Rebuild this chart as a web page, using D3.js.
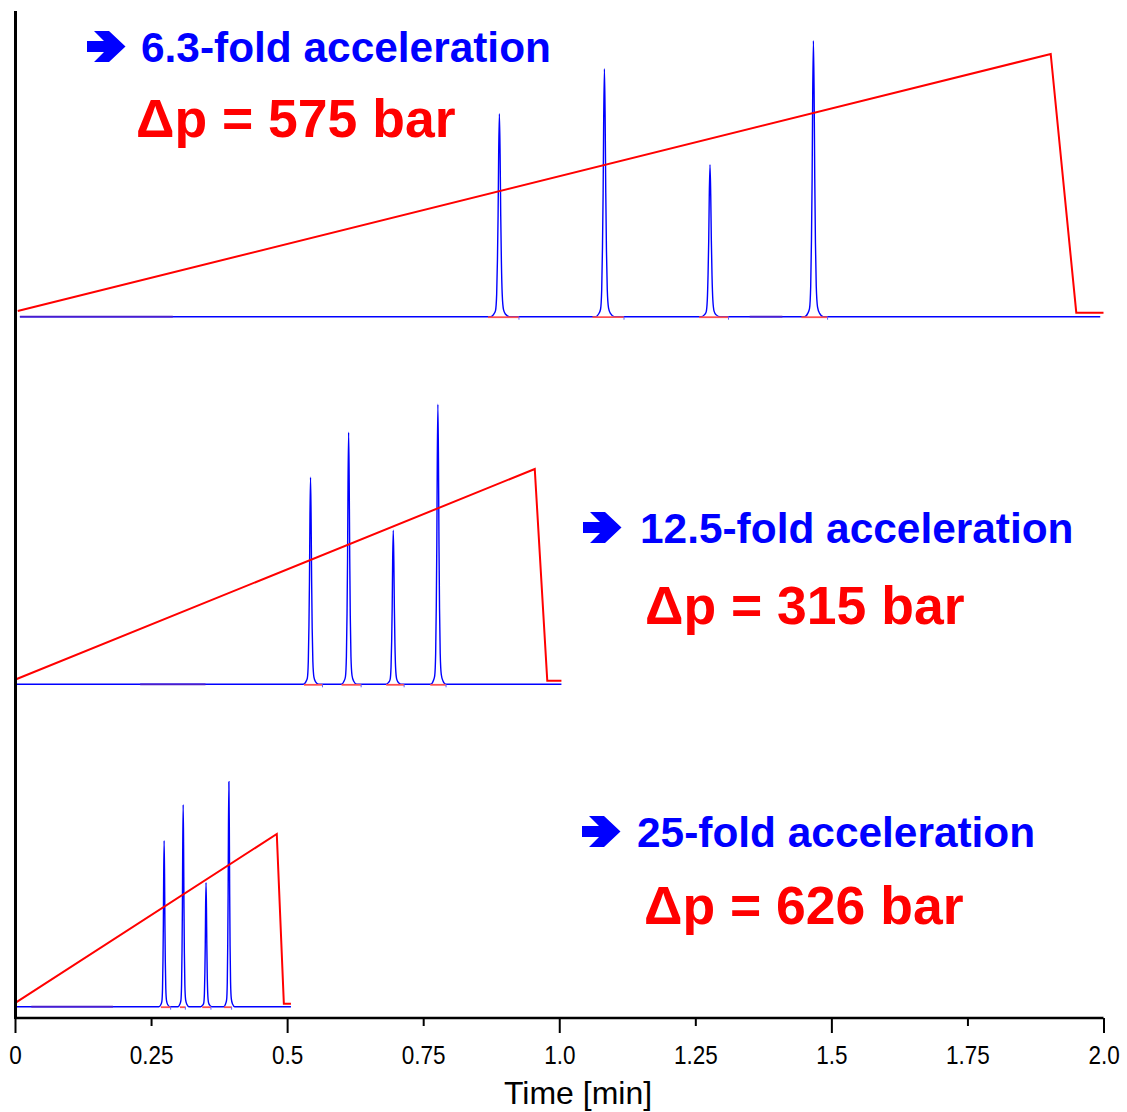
<!DOCTYPE html>
<html>
<head>
<meta charset="utf-8">
<script src="https://cdn.jsdelivr.net/npm/d3@7"></script>
<style>
  body { margin: 0; background: #fff; }
  svg text { font-family: "Liberation Sans", Arial, sans-serif; }
</style>
</head>
<body>
<div id="chart"></div>
<script>
// ---- data (time in min, signal in arbitrary units) ----
var panelNames = ["6.3-fold", "12.5-fold", "25-fold"];
var foldLabels = ["6.3-fold acceleration", "12.5-fold acceleration", "25-fold acceleration"];
var pressureLabels = ["\u0394p = 575 bar", "\u0394p = 315 bar", "\u0394p = 626 bar"];

// peak retention times and heights
var peakTimes = [
  [0.890, 1.083, 1.277, 1.467],
  [0.543, 0.613, 0.695, 0.777],
  [0.274, 0.309, 0.351, 0.393]
];
var peakHeights = [
  [203, 248, 152, 276],
  [207, 252, 154, 280],
  [166, 202, 124, 225]
];
// peak width at half height (min)
var peakWidths = [0.0095, 0.0078, 0.0056];
// shape of one peak: offset in half-height widths, relative height
var peakProfile = [
  [-3.4, 0], [-2.2, 0.012], [-1.5, 0.03], [-1.05, 0.11], [-0.75, 0.28], [-0.5, 0.5],
  [-0.28, 0.8], [0, 1], [0.28, 0.8], [0.52, 0.5], [0.78, 0.27],
  [1.1, 0.11], [1.6, 0.035], [2.4, 0.012], [3.8, 0]
];
// integration windows (red marks on the baseline)
var integrations = [
  [[0.869, 0.926], [1.061, 1.119], [1.257, 1.311], [1.445, 1.493]],
  [[0.531, 0.565], [0.600, 0.636], [0.682, 0.715], [0.763, 0.792]],
  [[0.268, 0.286], [0.303, 0.313], [0.344, 0.360], [0.384, 0.398]]
];
// darker (overlapping) stretches of the baseline
var darkBaseline = [
  [[0.009, 0.29], [1.35, 1.41]],
  [[0.23, 0.35]],
  [[0.03, 0.18]]
];
// blue trace start / end
var traceRange = [[0.009, 1.994], [0.003, 1.004], [0.003, 0.507]];
// red gradient / pressure trace
var redTrace = [
  [[0.005, 5.7], [1.903, 262.7], [1.950, 4], [2.0, 4]],
  [[0.002, 5], [0.955, 215.3], [0.978, 3.6], [1.004, 3.6]],
  [[0.002, 4.4], [0.481, 172.7], [0.494, 3], [0.507, 3]]
];
var xTicks = [0, 0.25, 0.5, 0.75, 1.0, 1.25, 1.5, 1.75, 2.0];
var xTickLabels = ["0", "0.25", "0.5", "0.75", "1.0", "1.25", "1.5", "1.75", "2.0"];

// ---- layout ----
var width = 1127, height = 1112;
var baselines = [316.7, 684.3, 1006.7];
var textPos = [
  {ax: 87, tx: 141, ty: 62, px: 136, py: 137},
  {ax: 583, tx: 640, ty: 543, px: 645, py: 624},
  {ax: 582, tx: 637, ty: 847, px: 644, py: 924}
];
// block arrow shape used before the "fold acceleration" labels
var arrowShape = "M0,-5.5 L17,-5.5 L7,-15.5 L22,-15.5 L38.5,0 L22,15.5 L7,15.5 L17,5.5 L0,5.5 Z";

var svg = d3.select("#chart").append("svg")
  .attr("width", width)
  .attr("height", height);

var x = d3.scaleLinear().domain([0, 2]).range([15, 1103.5]);

panelNames.forEach(function(name, i) {
  var y = d3.scaleLinear().domain([0, 300]).range([baselines[i], baselines[i] - 300]);
  var g = svg.append("g").attr("class", "panel");

  // blue chromatogram: baseline with peaks
  var pts = [[traceRange[i][0], 0]];
  peakTimes[i].forEach(function(t, k) {
    peakProfile.forEach(function(p) {
      pts.push([t + p[0] * peakWidths[i] / 2, p[1] * peakHeights[i][k]]);
    });
  });
  pts.push([traceRange[i][1], 0]);

  g.append("path")
    .attr("d", d3.line()
      .x(function(d) { return x(d[0]); })
      .y(function(d) { return y(d[1]); })
      .curve(d3.curveMonotoneX)(pts))
    .attr("fill", "none")
    .attr("stroke", "#0000ff")
    .attr("stroke-width", 1.4);

  g.selectAll(".dark")
    .data(darkBaseline[i])
    .join("line")
    .attr("x1", function(d) { return x(d[0]); })
    .attr("x2", function(d) { return x(d[1]); })
    .attr("y1", y(0))
    .attr("y2", y(0))
    .attr("stroke", "#4a1ccc")
    .attr("stroke-width", 1.8);

  // red integration marks
  g.selectAll(".integ")
    .data(integrations[i])
    .join("line")
    .attr("x1", function(d) { return x(d[0]); })
    .attr("x2", function(d) { return x(d[1]); })
    .attr("y1", y(0) + 0.5)
    .attr("y2", y(0) + 0.5)
    .attr("stroke", "#ff5050")
    .attr("stroke-width", 1.8);

  // small blue ticks at the end of each integration window
  g.selectAll(".itick")
    .data(integrations[i])
    .join("line")
    .attr("x1", function(d) { return x(d[1]); })
    .attr("x2", function(d) { return x(d[1]); })
    .attr("y1", y(0))
    .attr("y2", y(0) + 3)
    .attr("stroke", "#6060ff")
    .attr("stroke-width", 1);

  g.append("path")
    .attr("d", d3.line()
      .x(function(d) { return x(d[0]); })
      .y(function(d) { return y(d[1]); })(redTrace[i]))
    .attr("fill", "none")
    .attr("stroke", "#ff0000")
    .attr("stroke-width", 2);

  // annotations
  var tp = textPos[i];
  svg.append("path")
    .attr("d", arrowShape)
    .attr("transform", "translate(" + tp.ax + "," + (tp.ty - 15.5) + ")")
    .attr("fill", "#0000ff");
  svg.append("text")
    .attr("x", tp.tx).attr("y", tp.ty)
    .attr("font-size", 42.4)
    .attr("font-weight", "bold")
    .attr("fill", "#0000ff")
    .text(foldLabels[i]);
  svg.append("text")
    .attr("x", tp.px).attr("y", tp.py)
    .attr("font-size", 53.5)
    .attr("font-weight", "bold")
    .attr("fill", "#ff0000")
    .text(pressureLabels[i]);
});

// x axis
var axisY = 1018;
var xAxis = d3.axisBottom(x)
  .tickValues(xTicks)
  .tickSize(0)
  .tickFormat(function(d, k) { return xTickLabels[k]; });
var ax = svg.append("g")
  .attr("transform", "translate(0," + axisY + ")")
  .call(xAxis);
ax.select(".domain").remove();
ax.selectAll(".tick text")
  .attr("y", 0)
  .attr("dy", 0)
  .attr("transform", "translate(0,46) scale(0.9,1)")
  .attr("font-size", 25)
  .attr("font-family", "Liberation Sans, Arial, sans-serif")
  .attr("fill", "#000");
ax.selectAll(".tick")
  .append("line")
  .attr("y1", 0)
  .attr("y2", function(d, k) { return k % 2 === 0 ? 15 : 8; })
  .attr("stroke", "#000")
  .attr("stroke-width", 2);
svg.append("line")
  .attr("x1", x(0)).attr("x2", x(2))
  .attr("y1", axisY).attr("y2", axisY)
  .attr("stroke", "#000").attr("stroke-width", 2.5);

// y axis line (no ticks)
svg.append("line")
  .attr("x1", 15.5).attr("x2", 15.5)
  .attr("y1", 11).attr("y2", axisY + 1)
  .attr("stroke", "#000").attr("stroke-width", 3);

svg.append("text")
  .attr("x", 578).attr("y", 1104)
  .attr("text-anchor", "middle")
  .attr("font-size", 32)
  .attr("fill", "#000")
  .text("Time [min]");
</script>
</body>
</html>
